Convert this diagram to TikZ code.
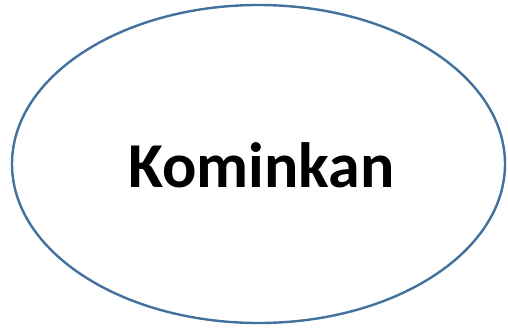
\documentclass[tikz,border=0pt]{standalone}
\usepackage{fontspec}
\setmainfont{Carlito}
\usetikzlibrary{shapes.geometric}
\definecolor{ovalblue}{RGB}{65,113,156}
\tikzset{
  oval/.style={ellipse, draw=ovalblue, line width=2.4pt, minimum width=493pt, minimum height=318pt, inner sep=0pt},
  label text/.style={font=\fontsize{64}{72}\selectfont\bfseries}
}
\begin{document}
\begin{tikzpicture}[x=1pt, y=-1pt]
    \useasboundingbox (0,0) rectangle (508,327);
    % Oval
    \node[oval] (kominkan) at (258.5,164) {};
    \node[label text, anchor=base] (name) at (261.5,187) {Kominkan};
\end{tikzpicture}
\end{document}
